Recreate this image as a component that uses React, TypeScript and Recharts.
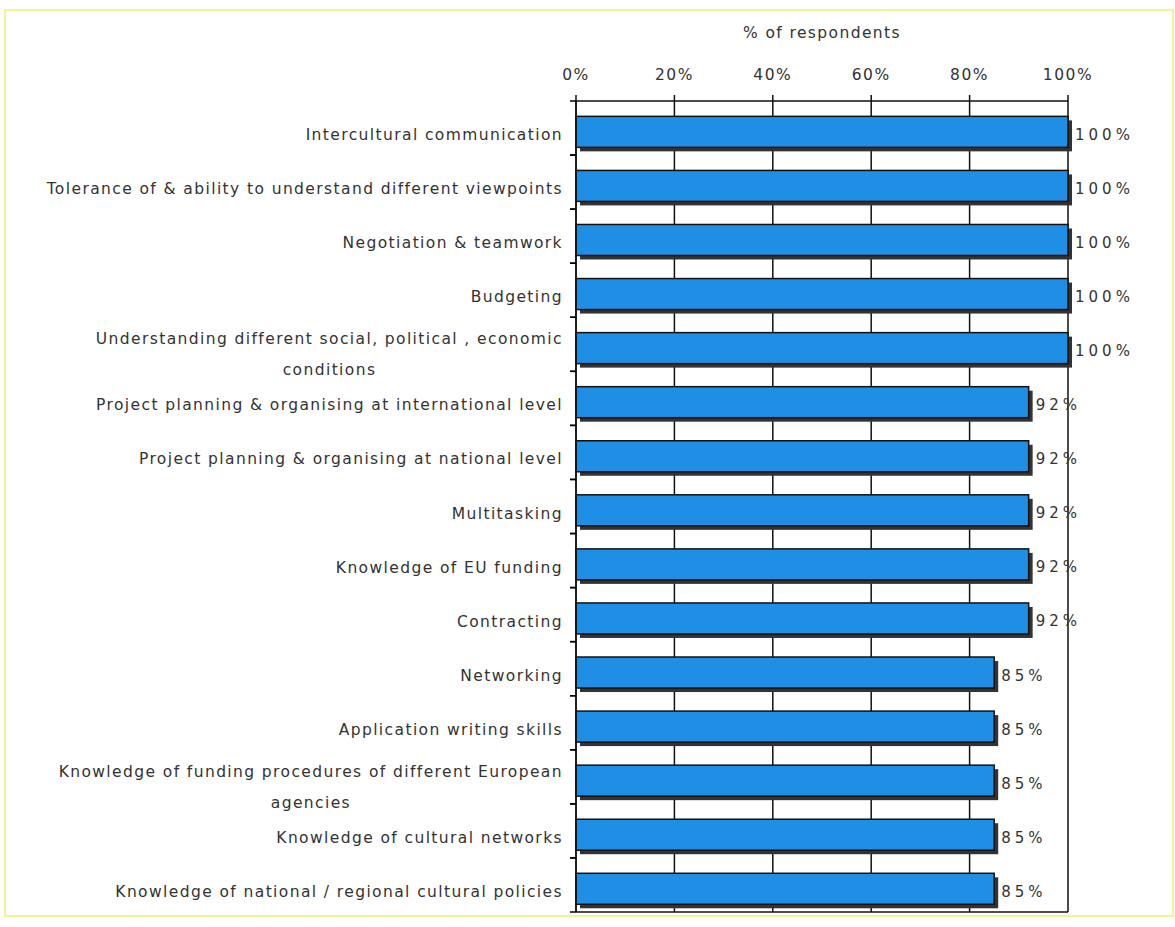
import React from "react"
import { Bar, BarChart, CartesianGrid, LabelList, XAxis, YAxis } from "recharts"

const skills = [
  "Intercultural communication",
  "Tolerance of & ability to understand different viewpoints",
  "Negotiation & teamwork",
  "Budgeting",
  "Understanding different social, political , economic\nconditions",
  "Project planning & organising at international level",
  "Project planning & organising at national level",
  "Multitasking",
  "Knowledge of EU funding",
  "Contracting",
  "Networking",
  "Application writing skills",
  "Knowledge of funding procedures of different European\nagencies",
  "Knowledge of cultural networks",
  "Knowledge of national / regional cultural policies",
]
const shares = [100, 100, 100, 100, 100, 92, 92, 92, 92, 92, 85, 85, 85, 85, 85]
const pctTicks = [0, 20, 40, 60, 80, 100]

const data = skills.map((skill, i) => ({ skill, share: shares[i] }))

const W = 1175
const H = 927
const TOP = 101
const BOTTOM = 15
const LEFT = 576
const RIGHT = 107
const BAND = (H - TOP - BOTTOM) / skills.length
const FONT = "'DejaVu Sans', Verdana, sans-serif"
const TEXT = "#333"
const FS = 15.5
const LS = 1.4
const SHIFT = 7 // text sits a bit below the band centre, like the bars

let ctx: CanvasRenderingContext2D | null = null
function measure(s: string) {
  if (!ctx) ctx = document.createElement("canvas").getContext("2d")
  if (!ctx) return s.length * 10
  ctx.font = `${FS}px 'DejaVu Sans'`
  return ctx.measureText(s).width + s.length * LS
}

const SkillTick = (props: any) => {
  const { y, payload } = props
  const lines = String(payload.value).split("\n")
  const xEnd = LEFT - 13
  const ty = y + SHIFT
  return (
    <g>
      <line x1={LEFT - 6} x2={LEFT} y1={y - BAND / 2} y2={y - BAND / 2} stroke="#000" strokeWidth={1.5} />
      <line x1={LEFT - 6} x2={LEFT} y1={y + BAND / 2} y2={y + BAND / 2} stroke="#000" strokeWidth={1.5} />
      {lines.length === 1 ? (
        <text x={xEnd} y={ty} dy={5} textAnchor="end" fontSize={FS} fill={TEXT} fontFamily={FONT} letterSpacing={LS}>
          {lines[0]}
        </text>
      ) : (
        <>
          <text x={xEnd} y={ty - 12} dy={5} textAnchor="end" fontSize={FS} fill={TEXT} fontFamily={FONT} letterSpacing={LS}>
            {lines[0]}
          </text>
          <text
            x={xEnd - measure(lines[0]) / 2}
            y={ty + 19}
            dy={5}
            textAnchor="middle"
            fontSize={FS}
            fill={TEXT}
            fontFamily={FONT}
            letterSpacing={LS}
          >
            {lines[1]}
          </text>
        </>
      )}
    </g>
  )
}

const ShadowBar = (props: any) => {
  const { x, y, width, height } = props
  const top = y + 4
  return (
    <g>
      <rect x={x + 4} y={top + 4} width={width} height={height} fill="#333" />
      <rect x={x} y={top} width={width} height={height} fill="#1f8fe5" stroke="#111" strokeWidth={1.5} />
    </g>
  )
}

const ValueLabel = (props: any) => {
  const { x, y, width, height, value } = props
  return (
    <text
      x={x + width + 7}
      y={y + height / 2 + SHIFT}
      dy={5}
      fontSize={15}
      fill={TEXT}
      fontFamily={FONT}
      letterSpacing={4}
    >
      {`${value}%`}
    </text>
  )
}

export default function App() {
  return (
    <div style={{ position: "absolute", left: 0, top: 0, width: W, height: H, background: "#fff" }}>
      <div
        style={{
          position: "absolute",
          left: 4,
          top: 9,
          width: 1170,
          height: 908,
          border: "2px solid #f2f296",
          boxSizing: "border-box",
        }}
      />
      <BarChart
        width={W}
        height={H}
        data={data}
        layout="vertical"
        barCategoryGap="21%"
        margin={{ top: 0, right: RIGHT, left: 0, bottom: BOTTOM }}
      >
        <CartesianGrid stroke="#111" strokeWidth={1.5} horizontalPoints={[H - BOTTOM]} />
        <XAxis
          type="number"
          orientation="top"
          domain={[0, 100]}
          ticks={pctTicks}
          tickFormatter={(v) => `${v}%`}
          height={TOP}
          tickSize={6}
          tickMargin={15}
          axisLine={{ stroke: "#111", strokeWidth: 1.5 }}
          tickLine={{ stroke: "#111", strokeWidth: 1.5 }}
          tick={{ fill: TEXT, fontSize: FS, fontFamily: FONT, letterSpacing: 1.5 }}
          label={{
            value: "% of respondents",
            position: "insideTop",
            offset: 27,
            fill: TEXT,
            fontSize: FS,
            fontFamily: FONT,
            letterSpacing: LS,
          }}
        />
        <YAxis
          type="category"
          dataKey="skill"
          width={LEFT}
          interval={0}
          tickLine={false}
          axisLine={{ stroke: "#111", strokeWidth: 1.5 }}
          tick={<SkillTick />}
        />
        <Bar dataKey="share" shape={<ShadowBar />} isAnimationActive={false}>
          <LabelList dataKey="share" content={<ValueLabel />} />
        </Bar>
      </BarChart>
    </div>
  )
}
